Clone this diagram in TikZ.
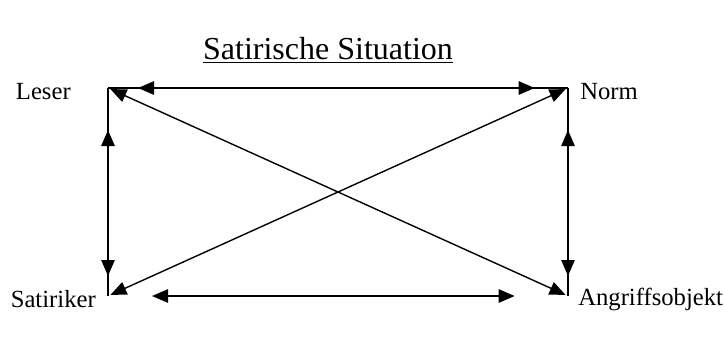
\documentclass[tikz,border=0pt]{standalone}
\usepackage{fontspec}
\setmainfont{Liberation Serif}
\usetikzlibrary{arrows.meta,positioning}

\begin{document}
\begin{tikzpicture}[
  x=0.75pt,
  y=-0.75pt,
  edgeLine/.style={line width=1.3pt},
  biArrow/.style={line width=1.3pt, {Triangle[length=12pt,width=10pt]}-{Triangle[length=12pt,width=10pt]}},
  crossArrow/.style={line width=1.05pt, {Triangle[length=12pt,width=10pt]}-{Triangle[length=12pt,width=10pt]}, shorten <=2pt, shorten >=2pt},
  cornerLabel/.style={font=\fontsize{18.5}{21}\selectfont, inner sep=0pt},
  titleLabel/.style={font=\fontsize{24}{28}\selectfont, inner sep=0pt}
]
\useasboundingbox (0,0) rectangle (724,340);

\node[titleLabel] (title) at (328,50) {\underline{Satirische Situation}};

\coordinate (tl) at (108,88);
\coordinate (tr) at (568,88);
\coordinate (bl) at (108,296);
\coordinate (br) at (568,296);

\node[cornerLabel, anchor=east] (leser) at (71,92) {Leser};
\node[cornerLabel, anchor=west] (norm) at (580,92) {Norm};
\node[cornerLabel, anchor=east] (satiriker) at (96,299) {Satiriker};
\node[cornerLabel, anchor=west] (objekt) at (578,299) {Angriffsobjekt};

\draw[edgeLine] (tl) -- (tr);
\draw[edgeLine] (tl) -- (bl);
\draw[edgeLine] (tr) -- (br);

\draw[biArrow, shorten <=22.5pt, shorten >=25pt] (tl) -- (tr);
\draw[biArrow, shorten <=31.5pt, shorten >=15pt] (tl) -- (bl);
\draw[biArrow, shorten <=31.5pt, shorten >=15pt] (tr) -- (br);
\draw[biArrow, shorten <=33pt, shorten >=40pt] (bl) -- (br);

\draw[crossArrow] (tl) -- (br);
\draw[crossArrow] (bl) -- (tr);
\end{tikzpicture}
\end{document}
